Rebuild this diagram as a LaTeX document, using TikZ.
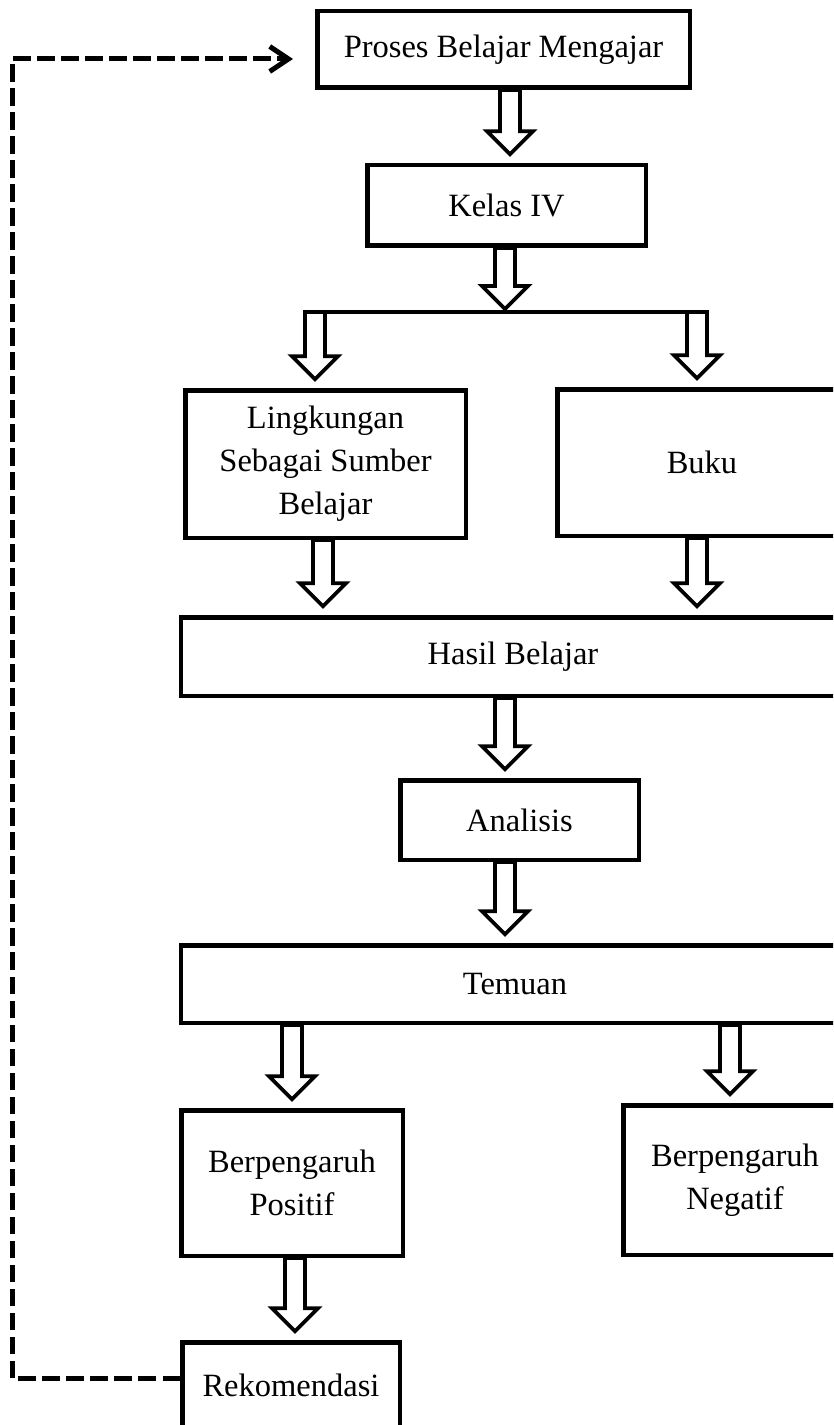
\documentclass[tikz,border=0pt]{standalone}
\usepackage{fontspec}
\setmainfont{Liberation Serif}
\usetikzlibrary{calc}
\usetikzlibrary{arrows.meta}

% hollow block arrow: start point, target point (tip sits [gap] above it)
\newcommand{\fatarrow}[3][3.5pt]{%
  \draw[fatarrow] let \p1=#2, \p2=#3 in
    (\x1-4pt,\y1) -- (\x1-4pt,\y2+#1+9.2pt) -- (\x1-9.2pt,\y2+#1+9.2pt)
    -- (\x1,\y2+#1) -- (\x1+9.2pt,\y2+#1+9.2pt) -- (\x1+4pt,\y2+#1+9.2pt)
    -- (\x1+4pt,\y1) -- cycle;}

\begin{document}
\begin{tikzpicture}[x=0.4pt,y=-0.4pt,
  box/.style={draw, line width=1.8pt, inner sep=0pt, align=center,
    font=\fontsize{13}{17.2}\selectfont},
  fatarrow/.style={draw, line width=1.5pt, miter limit=10},
  forkline/.style={line width=1.3pt},
  dashline/.style={line width=2pt, dash pattern=on 7pt off 2.6pt,
    -{Straight Barb[length=7.5pt,width=10pt]}, shorten >=8.8pt}]
\useasboundingbox (0,0) rectangle (833,1425);
\clip (0,0) rectangle (833,1425);

\node[box, minimum width=149pt, minimum height=30.6pt] (proses) at (503.5,49.5) {Proses Belajar Mengajar};
\node[box, minimum width=111.4pt, minimum height=32.2pt] (kelas) at (506.5,205.5) {Kelas IV};
\node[box, minimum width=112.2pt, minimum height=59pt] (lingk) at (325.5,464) {Lingkungan\\Sebagai Sumber\\Belajar};
\node[box, minimum width=115.8pt, minimum height=58.6pt] (buku) at (702,462.5) {Buku};
\node[box, minimum width=265.4pt, minimum height=31.4pt] (hasil) at (513,656.5) {Hasil Belajar};
\node[box, minimum width=95.4pt, minimum height=31.8pt] (analisis) at (519.5,820) {Analisis};
\node[box, minimum width=267pt, minimum height=31pt] (temuan) at (515,984) {Temuan};
\node[box, minimum width=88.6pt, minimum height=58.2pt] (pos) at (292,1183) {Berpengaruh\\Positif};
\node[box, minimum width=89.4pt, minimum height=59.8pt] (neg) at (735,1180) {Berpengaruh\\Negatif};
\node[box, minimum width=87pt, minimum height=34.2pt] (rek) at (291,1385) {Rekomendasi};

\coordinate (fork) at (505,312);
\coordinate (forkL) at (315,312);
\coordinate (forkR) at (697,312);
\coordinate (loop) at (12,59);

\fatarrow{([xshift=2.6pt]proses.south)}{(kelas.north)}
\fatarrow[1.2pt]{(fork |- kelas.south)}{(fork)}
\draw[forkline] ([xshift=-4pt]forkL) -- ([xshift=4pt]forkR);
\fatarrow{(forkL)}{(lingk.north)}
\fatarrow{(forkR)}{(buku.north)}
\fatarrow{([xshift=-1pt]lingk.south)}{(hasil.north)}
\fatarrow{(forkR |- buku.south)}{(hasil.north)}
\fatarrow{(fork |- hasil.south)}{(analisis.north)}
\fatarrow{(fork |- analisis.south)}{(temuan.north)}
\fatarrow{(pos.north |- temuan.south)}{(pos.north)}
\fatarrow{([xshift=-2pt]neg.north |- temuan.south)}{(neg.north)}
\fatarrow{([xshift=1.2pt]pos.south)}{(rek.north)}

\draw[dashline] ([yshift=2.8pt]rek.west) -| (loop) -- (loop -| proses.west);

\end{tikzpicture}
\end{document}
